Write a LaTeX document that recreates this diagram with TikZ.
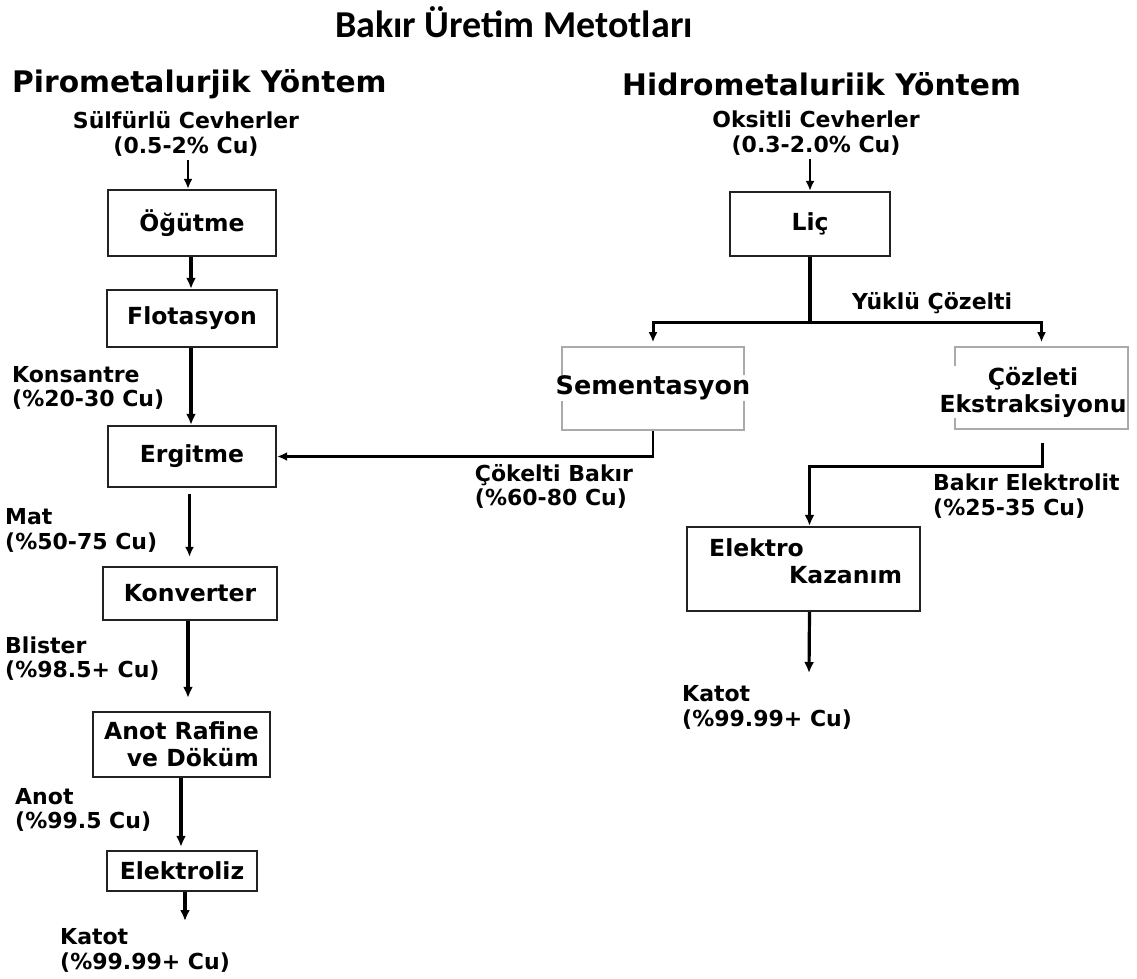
\documentclass[tikz,border=0pt]{standalone}
\usepackage{fontspec}
\setmainfont{DejaVu Sans}
\newfontfamily\titlefont{Carlito}
\usetikzlibrary{arrows.meta}
\definecolor{boxgray}{HTML}{AAAAAA}
\definecolor{boxdark}{HTML}{222222}
\begin{document}
\begin{tikzpicture}[x=1pt,y=-1pt,
  lbl/.style={font=\bfseries\fontsize{22}{24.5}\selectfont, inner sep=0pt},
  boxtxt/.style={font=\bfseries\fontsize{23.5}{27}\selectfont},
  head/.style={font=\bfseries\fontsize{29.7}{32}\selectfont, inner sep=0pt},
  box/.style={draw=boxdark, line width=2.3pt, inner sep=0pt, boxtxt},
  lightbox/.style={draw=boxgray, line width=1.6pt, inner sep=0pt},
  flow/.style={line width=3.2pt, -{Latex[length=11pt,width=10pt]}},
  thinflow/.style={line width=2.2pt, -{Latex[length=10pt,width=9pt]}},
  plain/.style={line width=3.2pt},
]
\useasboundingbox[fill=white] (0,0) rectangle (1137,978);

% Title
\node[inner sep=0pt, font=\titlefont\bfseries\fontsize{38}{42}\selectfont] (title) at (514,22) {Bakır Üretim Metotları};

% ---------- left column ----------
\node[head, anchor=west] (piro) at (12,84) {Pirometalurjik Yöntem};
\node[lbl, align=center] (sulf) at (186,134) {Sülfürlü Cevherler\\(0.5-2\% Cu)};

\node[box, minimum width=168, minimum height=66] (ogut) at (192,223) {Öğütme};
\node[box, minimum width=170, minimum height=57] (flot) at (192,318.5) {Flotasyon};
\node[box, minimum width=168, minimum height=61] (ergit) at (192,456.5) {Ergitme};
\node[box, minimum width=174, minimum height=53] (konv) at (190,593.5) {Konverter};
\node[box, minimum width=177, minimum height=65, align=right] (anot) at (181.5,744.5) {Anot Rafine\\ve Döküm};
\node[box, minimum width=150, minimum height=40] (elek) at (182,871) {Elektroliz};

\node[lbl, align=left, anchor=west] (kons) at (12,388) {Konsantre\\(\%20-30 Cu)};
\node[lbl, align=left, anchor=west] (mat) at (5,530.5) {Mat\\(\%50-75 Cu)};
\node[lbl, align=left, anchor=west] (blis) at (5,658.5) {Blister\\(\%98.5+ Cu)};
\node[lbl, align=left, anchor=west] (anotl) at (15,810) {Anot\\(\%99.5 Cu)};
\node[lbl, align=left, anchor=west] (katl) at (60,950.5) {Katot\\(\%99.99+ Cu)};
\coordinate (katend) at (185,921);

\draw[thinflow] ([xshift=-4pt,yshift=-4pt]ogut.north |- sulf.south) -- ([xshift=-4pt]ogut.north);
\draw[flow] ([xshift=-1pt]ogut.south) -- ([xshift=-1pt]flot.north);
\draw[flow] ([xshift=-1pt]flot.south) -- ([xshift=-1pt]ergit.north);
\draw[thinflow, shorten <=6pt, shorten >=9pt] ([xshift=-2.5pt]ergit.south) -- ([xshift=-2.5pt]ergit.south |- konv.north);
\draw[flow, shorten >=13pt] ([xshift=-2pt]konv.south) -- ([xshift=-2pt]konv.south |- anot.north);
\draw[flow, shorten >=3pt] ([xshift=-0.5pt]anot.south) -- ([xshift=-0.5pt]anot.south |- elek.north);
\draw[flow] ([xshift=3pt]elek.south) -- (katend);

% ---------- right column ----------
\node[head, anchor=west] (hidro) at (622,84) {Hidrometaluriik Yöntem};
\node[lbl, align=center] (oks) at (816,133) {Oksitli Cevherler\\(0.3-2.0\% Cu)};
\node[box, minimum width=160, minimum height=64] (lic) at (810,224) {Liç};
\node[lbl, anchor=west] (yuklu) at (852,303) {Yüklü Çözelti};

\node[lightbox, minimum width=182, minimum height=83] (sem) at (653,388.5) {};
\node[boxtxt, fill=white, inner sep=1pt, font=\bfseries\fontsize{25.5}{28}\selectfont] (semt) at (653,388) {Sementasyon};
\node[lightbox, minimum width=173, minimum height=82] (coz) at (1041.5,388) {};
\node[boxtxt, fill=white, inner sep=1pt, align=center] (cozt) at (1033,392) {Çözleti\\Ekstraksiyonu};

\node[box, minimum width=233, minimum height=84] (ek) at (803.5,569) {};
\node[boxtxt, anchor=west, inner sep=0pt] (ekt1) at (709,548) {Elektro};
\node[boxtxt, anchor=west, inner sep=0pt] (ekt2) at (789,575) {Kazanım};

\node[lbl, align=left] (cokel) at (554,486.5) {Çökelti Bakır\\(\%60-80 Cu)};
\node[lbl, align=left, anchor=west] (bel) at (933,496) {Bakır Elektrolit\\(\%25-35 Cu)};
\node[lbl, align=left, anchor=west] (kat2) at (682,707.5) {Katot\\(\%99.99+ Cu)};
\coordinate (kat2end) at (809,673);

\draw[thinflow] ([yshift=-4pt]oks.south -| lic.north) -- (lic.north);
\coordinate (split) at (810,322);
\draw[plain] (lic.south) -- (split);
\draw[thinflow, line width=3pt, shorten >=4pt] (split) -| (sem.north);
\draw[thinflow, line width=3pt, shorten >=4pt] (split) -| (coz.north);
\draw[thinflow, line width=2.6pt] (sem.south) |- (ergit.east);
\draw[flow] ([yshift=-13pt, xshift=1pt]coz.south) -- ++(0,24) -| ([xshift=6pt]ek.north);
\draw[flow] ([xshift=6pt]ek.south) -- (kat2end);
\end{tikzpicture}
\end{document}
